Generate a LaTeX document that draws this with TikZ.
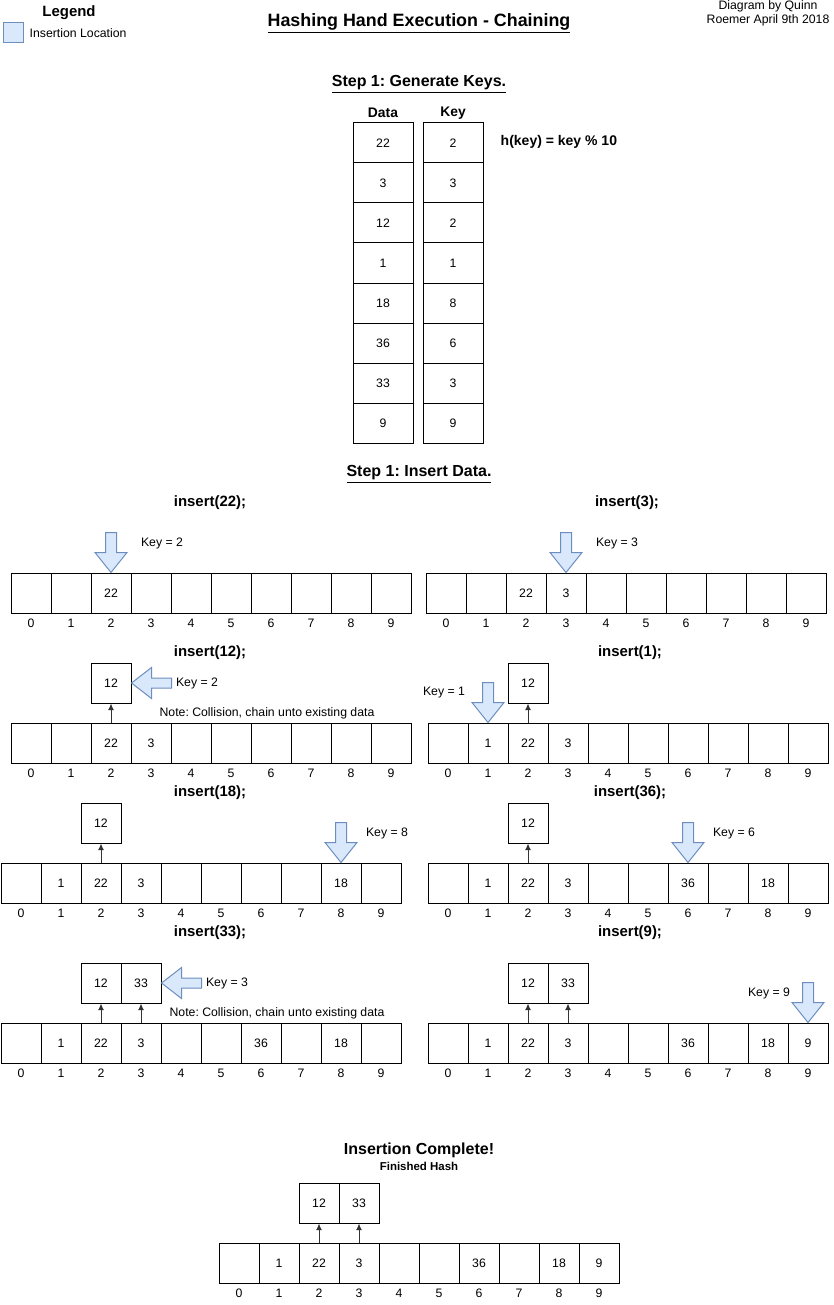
\documentclass[tikz,border=0pt]{standalone}
\usepackage{fontspec}
\setmainfont{Liberation Sans}
\usetikzlibrary{arrows.meta}
\frenchspacing

\definecolor{locfill}{HTML}{DAE8FC}
\definecolor{locline}{HTML}{6C8EBF}

\tikzset{
    small/.style={font=\fontsize{9.2}{10.5}\selectfont},
    cell/.style={rectangle, draw, line width=0.75pt, minimum width=30pt, minimum height=30pt, inner sep=0pt, small},
    widecell/.style={cell, minimum width=45pt},
    heading/.style={font=\bfseries\fontsize{11.2}{13}\selectfont},
    insertloc/.style={draw=locline, fill=locfill, line width=0.75pt},
    chain/.style={-{Latex[length=5pt,width=4.5pt]}, draw=black!80, line width=0.75pt},
    insdown/.pic={\draw[insertloc] (0,0) -- (-16,-20) -- (-5.5,-20) -- (-5.5,-40)
        -- (5.5,-40) -- (5.5,-20) -- (16,-20) -- cycle;},
    insleft/.pic={\draw[insertloc] (0,0) -- (20,-15.5) -- (20,-5) -- (40,-5)
        -- (40,5) -- (20,5) -- (20,15.5) -- cycle;}
}

% one row of the table: name, left x, top y, contents
\newcommand{\hashrow}[4]{%
    \foreach \v [count=\i from 0] in {#4} {
        \node[cell] (#1\i) at ({#2+20+40*\i},{#3+20}) {\v};
        \node[small] (#1i\i) at ({#2+20+40*\i},{#3+50}) {\i};
    }
}

\begin{document}
\begin{tikzpicture}[x=0.75pt, y=-0.75pt]
\useasboundingbox (0,0) rectangle (834,1305);

% Legend and header
\node (legend) at (69,13) [font=\bfseries\fontsize{11.2}{13}\selectfont] {Legend};
\node (legendbox) at (13,33) [insertloc, minimum size=15pt, inner sep=0pt] {};
\node (legendtext) at (25,33) [small, anchor=west] {Insertion Location};
\node (title) at (419,23) [font=\bfseries\fontsize{13.4}{16}\selectfont] {\underline{Hashing Hand Execution - Chaining}};
\node (author) at (768,13) [small, align=center] {Diagram by Quinn\\Roemer April 9th 2018};

% Step 1: keys
\node (stepkeys) at (419,84) [font=\bfseries\fontsize{12}{14}\selectfont] {\underline{Step 1: Generate Keys.}};
\node (datahead) at (383,113) [font=\bfseries\fontsize{10.4}{12}\selectfont] {Data};
\node (keyhead) at (453,113) [font=\bfseries\fontsize{10.4}{12}\selectfont] {Key};
\foreach \d/\k [count=\r from 0] in {22/2,3/3,12/2,1/1,18/8,36/6,33/3,9/9} {
    \node[widecell] (data\r) at (383,{143+40*\r}) {\d};
    \node[widecell] (key\r) at (453,{143+40*\r}) {\k};
}
\node (hashfn) at (496,142) [anchor=west, font=\bfseries\fontsize{10.5}{12}\selectfont] {h(key) = key \% 10};

% Step 1: insert
\node (stepins) at (419,474) [font=\bfseries\fontsize{12}{14}\selectfont] {\underline{Step 1: Insert Data.}};

% insert(22)
\node[heading] (t1) at (210,503) {insert(22);};
\hashrow{a}{11}{573}{{},{},22,{},{},{},{},{},{},{}}
\pic at (a2.north) {insdown};
\node[small] (k1) at (162,543) {Key = 2};

% insert(3)
\node[heading] (t2) at (627,503) {insert(3);};
\hashrow{b}{426}{573}{{},{},22,3,{},{},{},{},{},{}}
\pic at (b3.north) {insdown};
\node[small] (k2) at (617,543) {Key = 3};

% insert(12)
\node[heading] (t3) at (210,653) {insert(12);};
\hashrow{c}{11}{723}{{},{},22,3,{},{},{},{},{},{}}
\node[cell] (c12) at (111,683) {12};
\draw[chain] (c2.north) -- (c12.south);
\pic at (c12.east) {insleft};
\node[small] (k3) at (197,683) {Key = 2};
\node[small] (n3) at (267,713) {Note: Collision, chain unto existing data};

% insert(1)
\node[heading] (t4) at (630,653) {insert(1);};
\hashrow{d}{428}{723}{{},1,22,3,{},{},{},{},{},{}}
\node[cell] (d12) at (528,683) {12};
\draw[chain] (d2.north) -- (d12.south);
\pic at (d1.north) {insdown};
\node[small] (k4) at (444,693) {Key = 1};

% insert(18)
\node[heading] (t5) at (210,793) {insert(18);};
\hashrow{e}{1}{863}{{},1,22,3,{},{},{},{},18,{}}
\node[cell] (e12) at (101,823) {12};
\draw[chain] (e2.north) -- (e12.south);
\pic at (e8.north) {insdown};
\node[small] (k5) at (387,833) {Key = 8};

% insert(36)
\node[heading] (t6) at (630,793) {insert(36);};
\hashrow{f}{428}{863}{{},1,22,3,{},{},36,{},18,{}}
\node[cell] (f12) at (528,823) {12};
\draw[chain] (f2.north) -- (f12.south);
\pic at (f6.north) {insdown};
\node[small] (k6) at (734,833) {Key = 6};

% insert(33)
\node[heading] (t7) at (210,933) {insert(33);};
\hashrow{g}{1}{1023}{{},1,22,3,{},{},36,{},18,{}}
\node[cell] (g12) at (101,983) {12};
\node[cell] (g33) at (141,983) {33};
\draw[chain] (g2.north) -- (g12.south);
\draw[chain] (g3.north) -- (g33.south);
\pic at (g33.east) {insleft};
\node[small] (k7) at (227,983) {Key = 3};
\node[small] (n7) at (277,1013) {Note: Collision, chain unto existing data};

% insert(9)
\node[heading] (t8) at (630,933) {insert(9);};
\hashrow{h}{428}{1023}{{},1,22,3,{},{},36,{},18,9}
\node[cell] (h12) at (528,983) {12};
\node[cell] (h33) at (568,983) {33};
\draw[chain] (h2.north) -- (h12.south);
\draw[chain] (h3.north) -- (h33.south);
\pic at (h9.north) {insdown};
\node[small] (k8) at (769,993) {Key = 9};

% Finished hash
\node (done) at (419,1150) [font=\bfseries\fontsize{12}{14}\selectfont] {Insertion Complete!};
\node (donesub) at (419,1166) [font=\bfseries\fontsize{8.6}{10}\selectfont] {Finished Hash};
\hashrow{z}{219}{1243}{{},1,22,3,{},{},36,{},18,9}
\node[cell] (z12) at (319,1203) {12};
\node[cell] (z33) at (359,1203) {33};
\draw[chain] (z2.north) -- (z12.south);
\draw[chain] (z3.north) -- (z33.south);

\end{tikzpicture}
\end{document}
